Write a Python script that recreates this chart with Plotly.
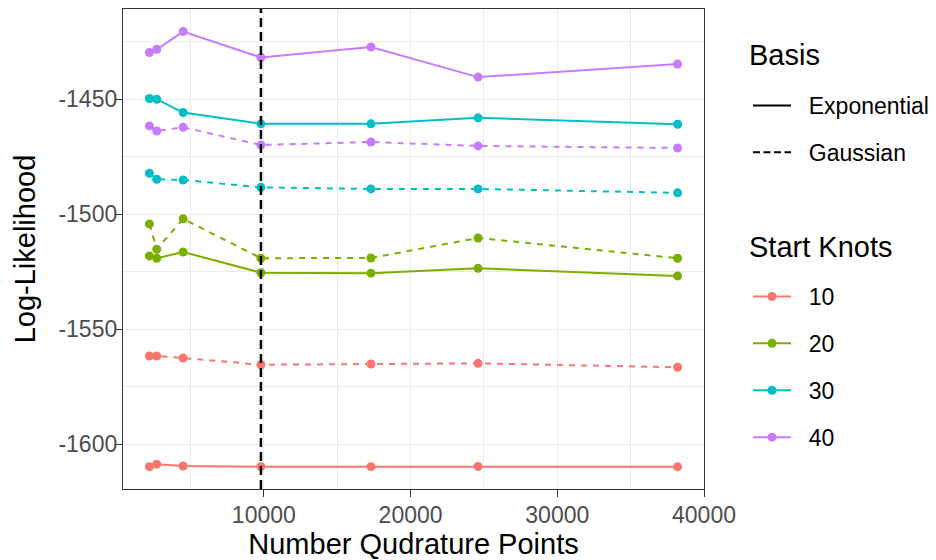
import plotly.graph_objects as go

# ---- data ----
quad_points = [2200, 2700, 4500, 9800, 17300, 24600, 38200]
knots = ["10", "20", "30", "40"]
basis = ["Exponential", "Gaussian"]

exp_10 = [-1609.7, -1608.6, -1609.4, -1609.7, -1609.7, -1609.6, -1609.7]
gau_10 = [-1561.6, -1561.6, -1562.5, -1565.4, -1565.1, -1564.8, -1566.5]
exp_20 = [-1518.1, -1519.1, -1516.4, -1525.4, -1525.6, -1523.5, -1526.8]
gau_20 = [-1504.2, -1515.2, -1502.0, -1519.1, -1519.0, -1510.3, -1519.1]
exp_30 = [-1449.7, -1450.0, -1455.8, -1460.7, -1460.7, -1458.1, -1460.9]
gau_30 = [-1482.2, -1484.8, -1485.1, -1488.3, -1489.0, -1489.0, -1490.7]
exp_40 = [-1429.7, -1428.3, -1420.6, -1431.9, -1427.3, -1440.4, -1434.7]
gau_40 = [-1461.6, -1463.8, -1462.2, -1469.9, -1468.6, -1470.3, -1471.2]

vline_x = 9800
x_ticks = [10000, 20000, 30000, 40000]
y_ticks = [-1600, -1550, -1500, -1450]

series = {
    ("Exponential", "10"): exp_10, ("Gaussian", "10"): gau_10,
    ("Exponential", "20"): exp_20, ("Gaussian", "20"): gau_20,
    ("Exponential", "30"): exp_30, ("Gaussian", "30"): gau_30,
    ("Exponential", "40"): exp_40, ("Gaussian", "40"): gau_40,
}

colors = {"10": "#F8766D", "20": "#7CAE00", "30": "#00BFC4", "40": "#C77CFF"}
dashes = {"Exponential": "solid", "Gaussian": "6px,6px"}
legend_dashes = {"Exponential": "solid", "Gaussian": "7px,3.5px"}

FONT = "Liberation Sans, Arial, sans-serif"
NB = "\u00a0\u00a0"  # small spacer between legend key and label
fig = go.Figure()

for k in knots:
    for b in basis:
        fig.add_trace(go.Scatter(
            x=quad_points, y=series[(b, k)], mode="lines+markers",
            line=dict(color=colors[k], width=2, dash=dashes[b]),
            marker=dict(color=colors[k], size=9),
            showlegend=False, hoverinfo="skip"))

# legend entries: Basis
for b in basis:
    fig.add_trace(go.Scatter(
        x=[None], y=[None], mode="lines", name=NB + b,
        line=dict(color="black", width=2, dash=legend_dashes[b]),
        legend="legend", legendgroup="b_" + b))
# legend entries: Start Knots
for k in knots:
    fig.add_trace(go.Scatter(
        x=[None], y=[None], mode="lines+markers", name=NB + k,
        line=dict(color=colors[k], width=2),
        marker=dict(color=colors[k], size=9),
        legend="legend2", legendgroup="k_" + k))

fig.add_vline(x=vline_x, line=dict(color="black", width=2.5, dash="9px,5px"))

axis_common = dict(
    showline=True, linecolor="#333333", linewidth=1.3, mirror=True,
    ticks="outside", ticklen=7, tickwidth=1.3, tickcolor="#333333",
    tickfont=dict(size=23, color="#4D4D4D", family=FONT),
    showgrid=True, gridcolor="#EBEBEB", gridwidth=1.4, zeroline=False,
    automargin=False,
)

legend_common = dict(
    font=dict(size=23, family=FONT),
    xref="container", yref="container", xanchor="left", yanchor="top",
    tracegroupgap=14, bgcolor="rgba(0,0,0,0)", itemwidth=38,
)

PL, PR, PT, PB = 123, 232, 9, 71
ph = 560 - PT - PB
pw = 936 - PL - PR

fig.update_layout(
    width=936, height=560,
    margin=dict(l=PL, r=PR, t=PT, b=PB),
    paper_bgcolor="white", plot_bgcolor="white",
    font=dict(family=FONT, color="black"),
    xaxis=dict(range=[400, 40000], tickvals=x_ticks,
               ticktext=[str(v) for v in x_ticks], ticklabelstandoff=-2,
               minor=dict(dtick=5000, tick0=0, showgrid=True, gridcolor="#EBEBEB", gridwidth=0.8, ticks=""),
               title=dict(text="Number Qudrature Points", font=dict(size=29, family=FONT), standoff=2),
               **axis_common),
    yaxis=dict(range=[-1619.4, -1410.8], tickvals=y_ticks,
               ticktext=[str(v) for v in y_ticks], ticklabelstandoff=-7,
               minor=dict(dtick=25, tick0=-1600, showgrid=True, gridcolor="#EBEBEB", gridwidth=0.8, ticks=""),
               title=dict(text="Log-Likelihood", font=dict(size=29, family=FONT), standoff=14),
               **axis_common),
    legend=dict(x=748 / 936, y=1 - 84 / 560, **legend_common),
    legend2=dict(x=748 / 936, y=1 - 275 / 560, **legend_common),
)
# legend titles
for title, cy in [("Basis", 55), ("Start Knots", 247.5)]:
    fig.add_annotation(text=title, xref="paper", yref="paper",
                       x=(747 - PL) / pw, y=(560 - PB - cy) / ph,
                       xanchor="left", yanchor="middle", showarrow=False,
                       font=dict(size=29, family=FONT, color="black"))

fig.write_html("out.html")
